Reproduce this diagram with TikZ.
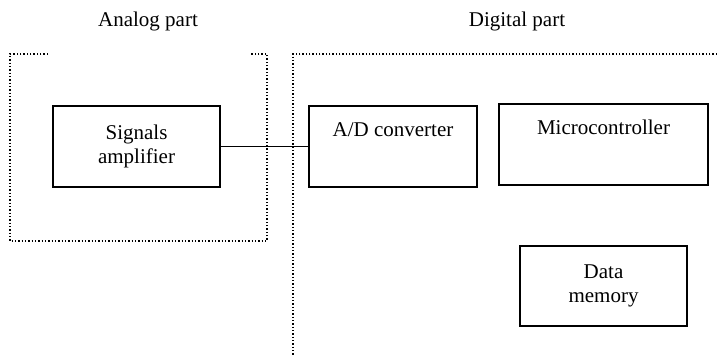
\documentclass[tikz,border=0pt]{standalone}
\usepackage{fontspec}
\setmainfont{Liberation Serif}
\usetikzlibrary{calc}

\begin{document}
\begin{tikzpicture}[x=0.75pt, y=-0.75pt,
		blk/.style={draw, line width=1pt, inner sep=0pt, align=center},
		zone/.style={line width=1pt, dash pattern=on 1pt off 1.5pt},
		txt/.style={font=\fontsize{15.75}{18}\selectfont, align=center}]
			%%%%% START %%%%%
			
			\useasboundingbox (0, 0) rectangle (717, 356);
			
			% analog part
			\node[txt] (atitle) at (148, 21) {Analog part};
			\draw[zone] (48, 54) -- (10, 54) -- (10, 241) -- (267, 241) -- (267, 54) -- (250, 54);
			
			% digital part
			\node[txt] (dtitle) at (517, 21) {Digital part};
			\draw[zone] (717, 54) -- (293, 54) -- (293, 356);
			
			\node[blk, minimum width=125.25pt, minimum height=60.75pt] (amp) at (136.5, 146.5) {};
			\node[txt] at (amp) {Signals\\amplifier};
			
			\node[blk, minimum width=126pt, minimum height=60.75pt] (adc) at (393, 146.5) {};
			\node[txt, anchor=base] at ($(adc.north)+(0, 31)$) {A/D converter};
			
			\node[blk, minimum width=156.75pt, minimum height=60.75pt] (mcu) at (603.5, 144.5) {};
			\node[txt, anchor=base] at ($(mcu.north)+(0, 31)$) {Microcontroller};
			
			\node[blk, minimum width=125.25pt, minimum height=60pt] (mem) at (603.5, 286) {};
			\node[txt] at (mem) {Data\\memory};
			
			\draw[line width=1pt] (amp.east) -- (adc.west);
			
			%%%%% END %%%%%
		\end{tikzpicture}
\end{document}
